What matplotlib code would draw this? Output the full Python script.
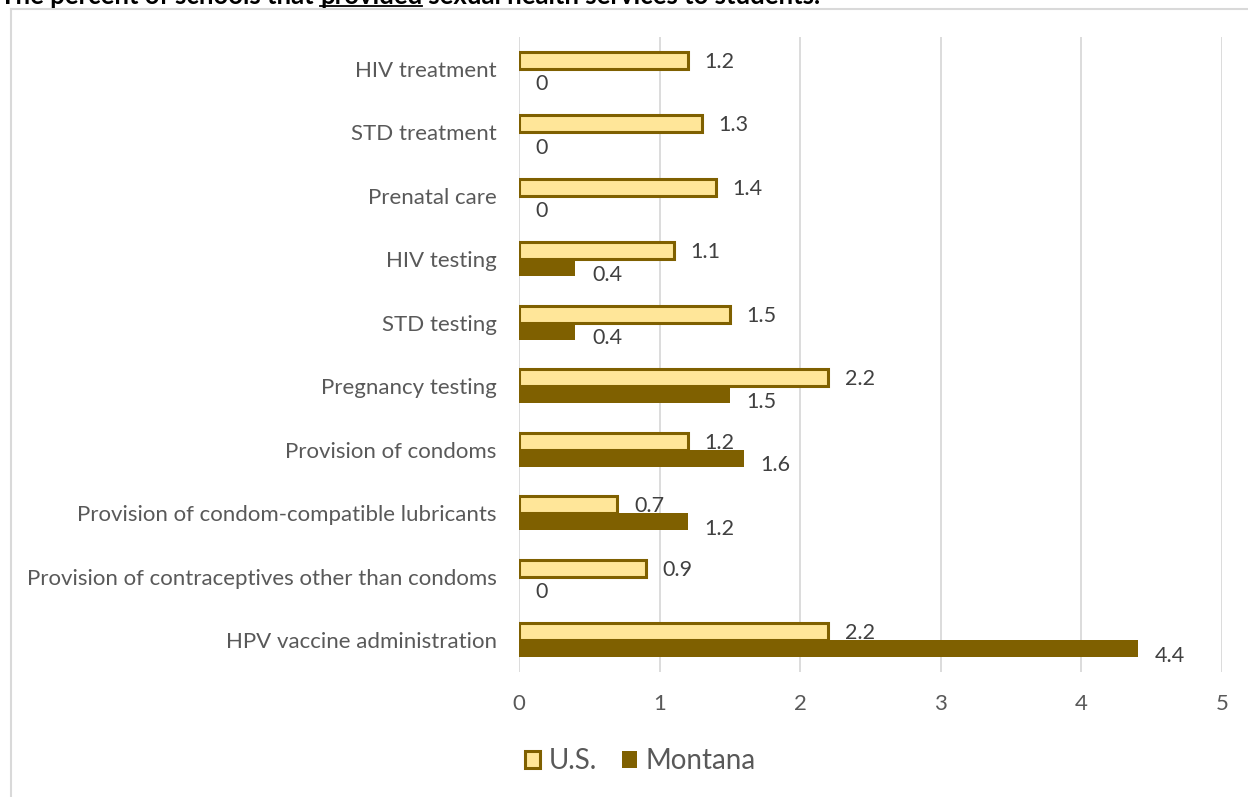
import matplotlib
matplotlib.use("Agg")
import matplotlib.pyplot as plt
from matplotlib.lines import Line2D
import numpy as np

categories = [
    "HIV treatment",
    "STD treatment",
    "Prenatal care",
    "HIV testing",
    "STD testing",
    "Pregnancy testing",
    "Provision of condoms",
    "Provision of condom-compatible lubricants",
    "Provision of contraceptives other than condoms",
    "HPV vaccine administration",
]
us_values = [1.2, 1.3, 1.4, 1.1, 1.5, 2.2, 1.2, 0.7, 0.9, 2.2]
montana_values = [0, 0, 0, 0.4, 0.4, 1.5, 1.6, 1.2, 0, 4.4]
x_ticks = [0, 1, 2, 3, 4, 5]

US_FILL = "#FFE699"
DARK = "#7F6000"
TEXT = "#595959"
GRID = "#D9D9D9"

plt.rcParams["font.family"] = ["Lato", "DejaVu Sans"]

W, H = 1248, 797
fig = plt.figure(figsize=(W / 100, H / 100), dpi=100)

# chart frame (left and top edges)
fig.lines.append(Line2D([11 / W, 11 / W], [0, 1 - 9 / H], transform=fig.transFigure,
                        color=GRID, linewidth=1.5, zorder=0))
fig.lines.append(Line2D([11 / W, 1], [1 - 9 / H, 1 - 9 / H], transform=fig.transFigure,
                        color=GRID, linewidth=1.5, zorder=0))

ax = fig.add_axes([519 / W, 1 - 672 / H, (1222 - 519) / W, (672 - 37) / H])

y = np.arange(len(categories))
h = 0.265
ax.barh(y - h / 2, us_values, height=h, color=US_FILL, edgecolor=DARK, linewidth=2.2,
        label="U.S.", zorder=3)
ax.barh(y + h / 2, montana_values, height=h, color=DARK, linewidth=0,
        label="Montana", zorder=3)

for yi, v in zip(y, us_values):
    ax.annotate(f"{v:g}", (v, yi - h / 2), xytext=(12, -1), textcoords="offset points",
                va="center", ha="left", fontsize=15.5, color="#404040")
for yi, v in zip(y, montana_values):
    ax.annotate(f"{v:g}", (v, yi + h / 2), xytext=(12, -5), textcoords="offset points",
                va="center", ha="left", fontsize=15.5, color="#404040")

ax.set_xlim(0, 5)
ax.set_ylim(len(categories) - 0.5, -0.5)
ax.set_xticks(x_ticks)
ax.set_yticks(y)
ax.set_yticklabels(categories)
ax.tick_params(axis="both", length=0, labelsize=16, colors=TEXT)
ax.tick_params(axis="x", pad=16)
ax.tick_params(axis="y", pad=16)
ax.grid(axis="x", color=GRID, linewidth=1.3, zorder=0)
for s in ax.spines.values():
    s.set_visible(False)

leg = fig.legend(loc="center", bbox_to_anchor=(640 / W, 1 - 761 / H), ncol=2, frameon=False,
                 fontsize=20, handlelength=0.55, handleheight=0.55, handletextpad=0.3,
                 columnspacing=0.9, labelcolor=TEXT)

# title running along the top edge
fig.canvas.draw()
renderer = fig.canvas.get_renderer()
parts = ["The percent of schools that ", "provided", " sexual health services to students."]
x = 0
base_y = 1 - 4 / H
for i, p in enumerate(parts):
    t = fig.text(x / W, base_y, p, fontsize=18.5, fontweight="bold", color="black",
                 va="baseline", ha="left")
    bb = t.get_window_extent(renderer)
    if i == 1:
        fig.lines.append(Line2D([x / W, (x + bb.width) / W], [1 - 5.5 / H] * 2,
                                transform=fig.transFigure, color="black", linewidth=1.3))
    x += bb.width

fig.savefig("out.png", dpi=100)
